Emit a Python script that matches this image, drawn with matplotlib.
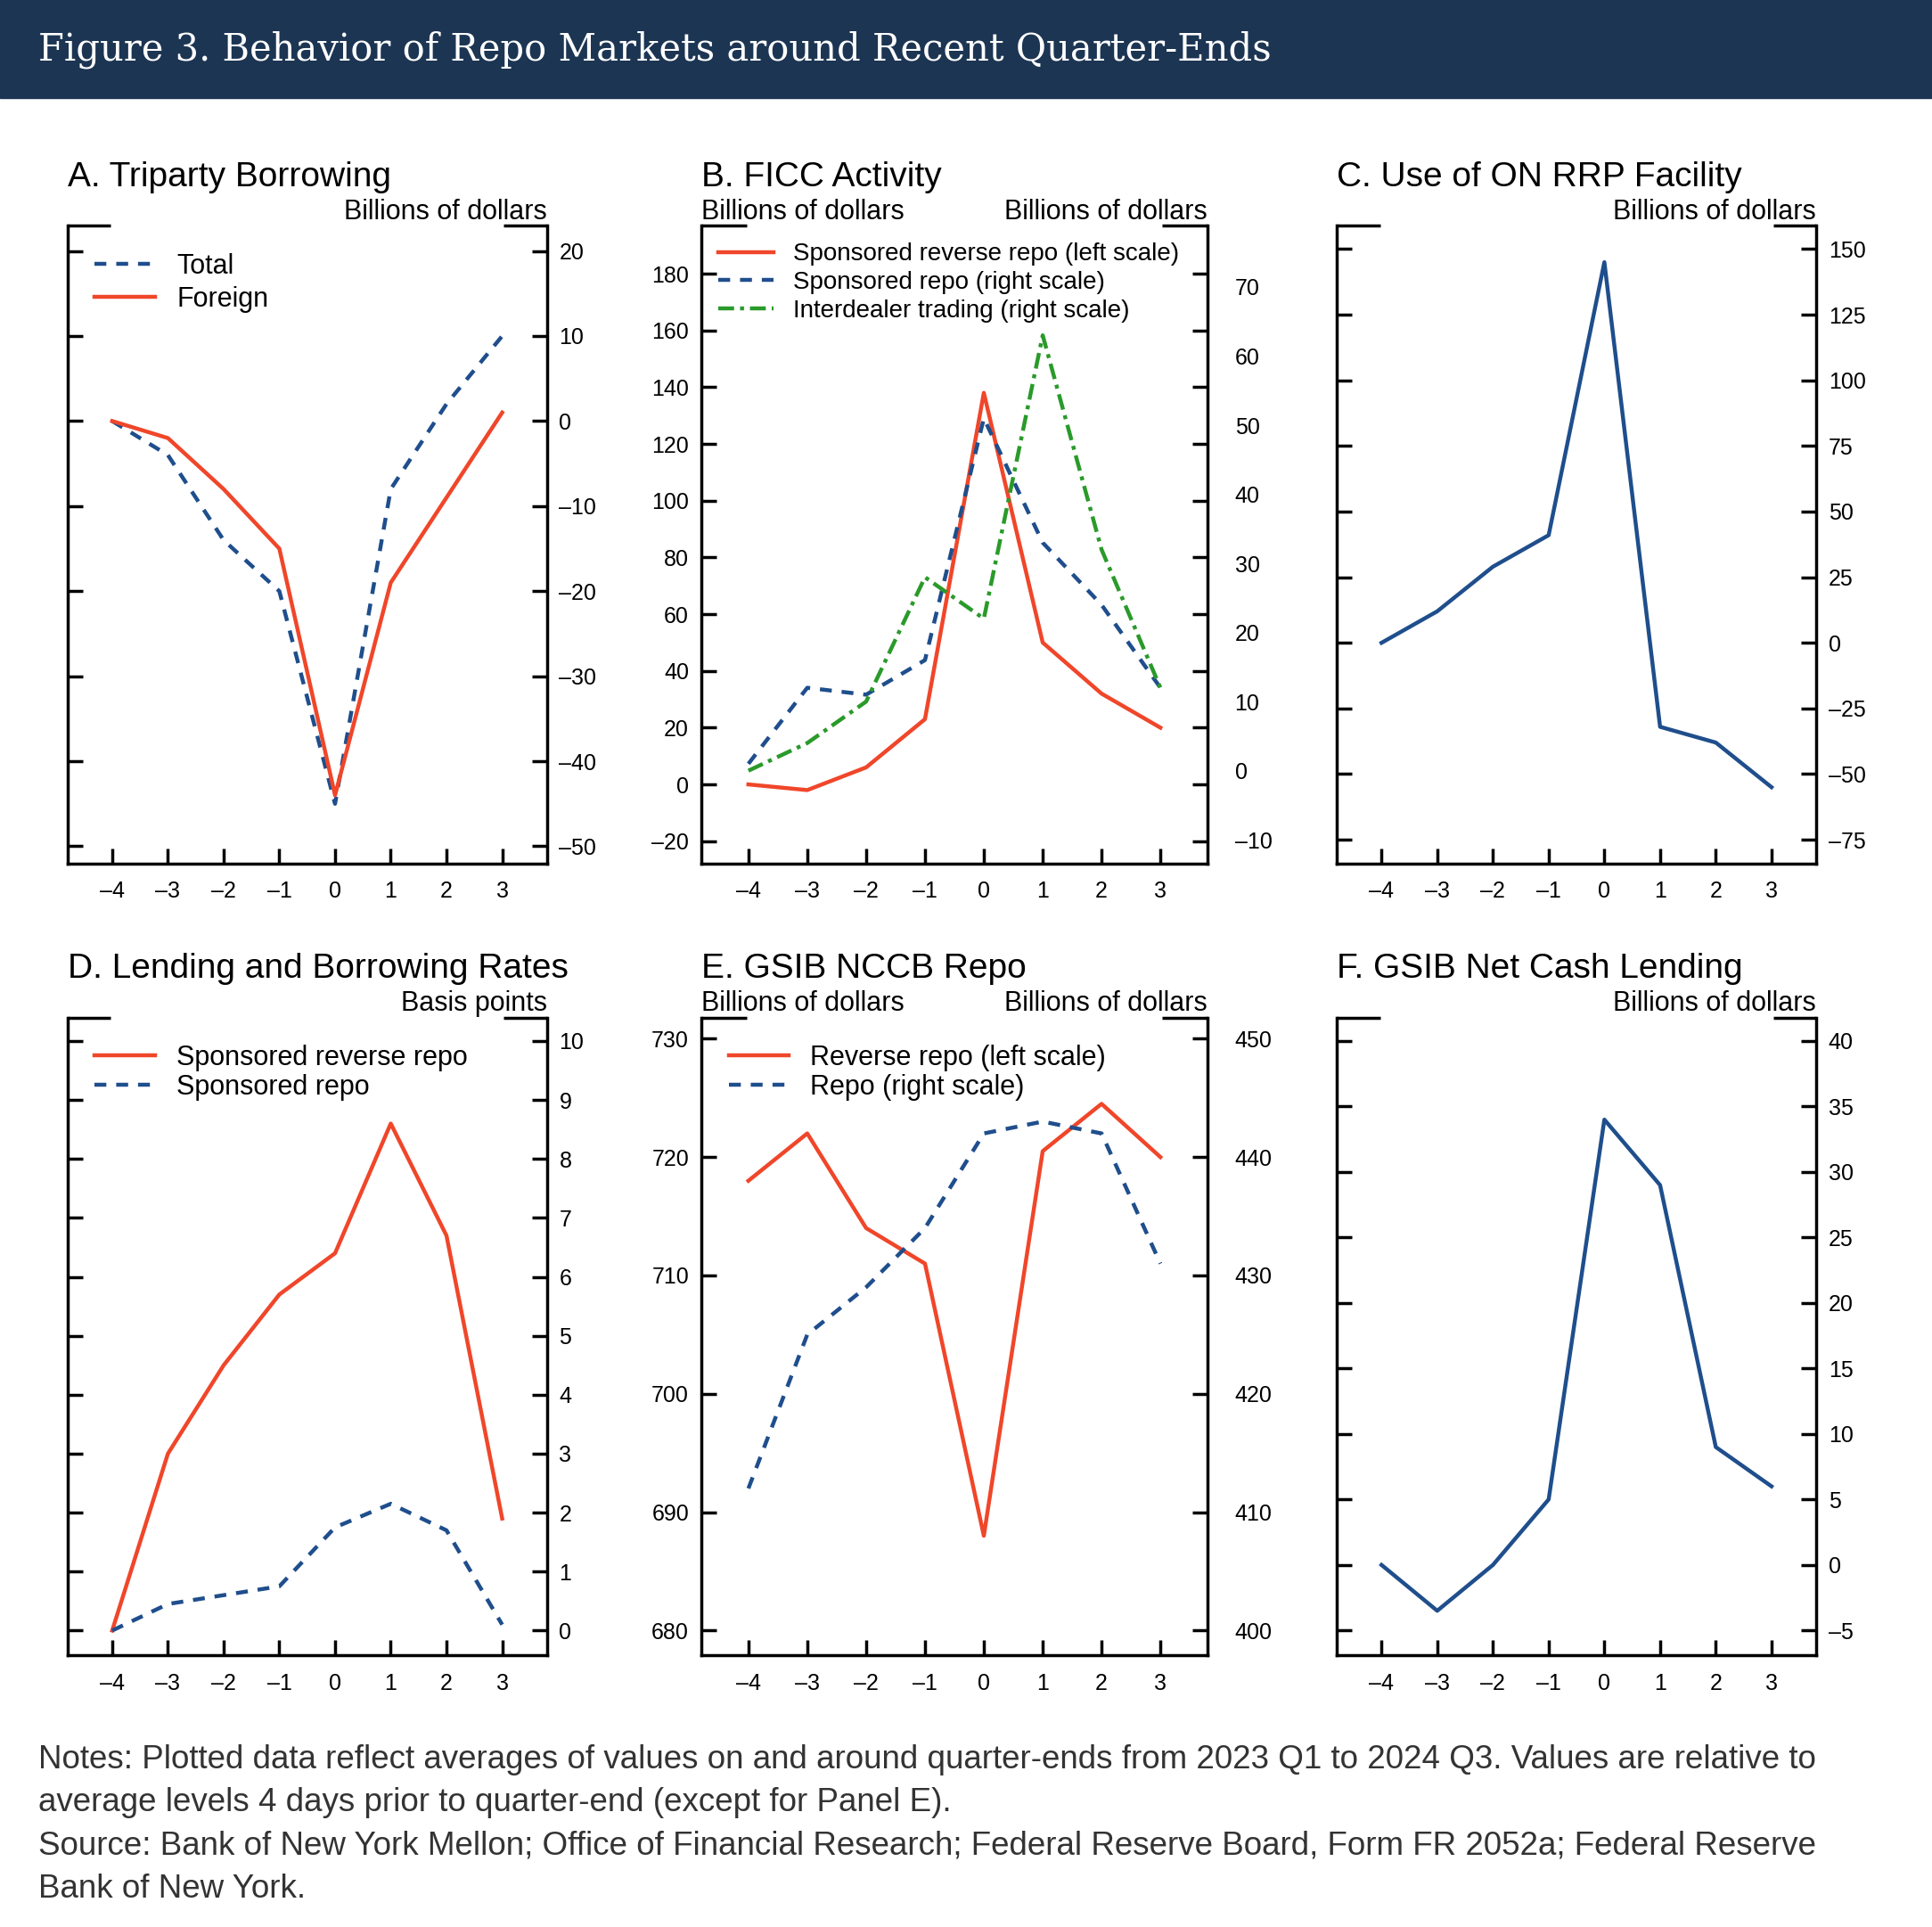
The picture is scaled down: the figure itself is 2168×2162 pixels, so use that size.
import numpy as np
import matplotlib.pyplot as plt

plt.rcParams['font.family'] = ['Liberation Sans', 'DejaVu Sans']

days = [-4, -3, -2, -1, 0, 1, 2, 3]

# A. Triparty borrowing
a_total = [0, -4, -14, -20, -45, -8, 2, 10]
a_foreign = [0, -2, -8, -15, -44, -19, -9, 1]
# B. FICC activity
b_srr = [0, -2, 6, 23, 138, 50, 32, 20]
b_sr = [1, 12, 11, 16, 51, 33, 24, 12]
b_inter = [0, 4, 10, 28, 22, 63, 32, 12]
# C. ON RRP
c_rrp = [0, 12, 29, 41, 145, -32, -38, -55]
# D. Rates
d_srr = [0, 3, 4.5, 5.7, 6.4, 8.6, 6.7, 1.9]
d_sr = [0, 0.45, 0.6, 0.75, 1.75, 2.15, 1.7, 0.1]
# E. GSIB NCCB
e_rev = [718, 722, 714, 711, 688, 720.5, 724.5, 720]
e_repo = [412, 425, 429, 434, 442, 443, 442, 431]
# F. Net cash lending
f_net = [0, -3.5, 0, 5, 34, 29, 9, 6]

RED = '#f0462a'
BLUE = '#1f4e8c'
GREEN = '#2a9a2a'
LW = 3.2
TS = 18

fig = plt.figure(figsize=(21.68, 21.62), dpi=100)
fig.patches.append(plt.Rectangle((0, 0.949), 1, 0.051, transform=fig.transFigure,
                                 color='#1c3553', zorder=0))
fig.text(0.02, 0.974, 'Figure 3. Behavior of Repo Markets around Recent Quarter-Ends',
         color='white', fontsize=30, family=['DejaVu Serif'], va='center')

lefts = [0.035, 0.363, 0.692]
widths = [0.248, 0.262, 0.248]
bottoms = [0.552, 0.141]
H = 0.331


def fmt(v):
    return str(v).replace('-', '\u2013')


def frame(ax, yticks, ylim):
    ax.set_xlim(-4.8, 3.8)
    ax.set_ylim(*ylim)
    ax.set_xticks(days)
    ax.set_xticklabels([fmt(d) for d in days])
    ax.set_yticks(list(yticks))
    ax.set_yticklabels([fmt(v) for v in yticks])
    ax.spines['top'].set_visible(False)
    for s in ['left', 'right', 'bottom']:
        ax.spines[s].set_linewidth(2.5)
    ax.tick_params(direction='in', length=12, width=2.5, labelsize=TS,
                   left=True, right=True, labelleft=False, labelright=True, pad=10)
    ax.tick_params(axis='x', pad=14)
    for x0, x1 in [(0, 0.09), (0.91, 1)]:
        ax.plot([x0, x1], [1, 1], transform=ax.transAxes, color='black', lw=2.5,
                clip_on=False, solid_capstyle='butt')


def titles(ax, title, left_unit=None, right_unit='Billions of dollars'):
    ax.text(0, 1.062, title, transform=ax.transAxes, fontsize=28, ha='left')
    ax.text(1, 1.01, right_unit, transform=ax.transAxes, fontsize=22, ha='right')
    if left_unit:
        ax.text(0, 1.01, left_unit, transform=ax.transAxes, fontsize=22, ha='left')


def make_ax(r, c):
    return fig.add_axes([lefts[c], bottoms[r], widths[c], H])


def right_twin(ax, ticks, ylim):
    ax2 = ax.twinx()
    ax2.set_ylim(*ylim)
    ax2.set_yticks(list(ticks))
    ax2.set_yticklabels([fmt(v) for v in ticks])
    ax2.tick_params(direction='in', length=0, labelsize=TS, pad=22)
    for s in ax2.spines.values():
        s.set_visible(False)
    return ax2


# A
ax = make_ax(0, 0)
ax.plot(days, a_total, color=BLUE, lw=LW, ls=(0, (3, 2.5)), label='Total')
ax.plot(days, a_foreign, color=RED, lw=LW, label='Foreign')
frame(ax, range(-50, 21, 10), (-52, 23))
titles(ax, 'A. Triparty Borrowing')
ax.legend(loc='upper left', frameon=False, fontsize=22, handlelength=2.2,
          borderaxespad=0.6, labelspacing=0.25)

# B
ax = make_ax(0, 1)
ax2 = right_twin(ax, range(-10, 71, 10), (-13.4, 78.9))
l1, = ax.plot(days, b_srr, color=RED, lw=LW, label='Sponsored reverse repo (left scale)')
l2, = ax2.plot(days, b_sr, color=BLUE, lw=LW, ls=(0, (3, 2.5)), label='Sponsored repo (right scale)')
l3, = ax2.plot(days, b_inter, color=GREEN, lw=LW, ls=(0, (4, 1.5, 1, 1.5)),
               label='Interdealer trading (right scale)')
frame(ax, range(-20, 181, 20), (-27.8, 197))
ax.tick_params(labelleft=True, labelright=False)
titles(ax, 'B. FICC Activity', left_unit='Billions of dollars')
ax2.legend(handles=[l1, l2, l3], loc='upper left', frameon=False, fontsize=20,
           handlelength=2.2, borderaxespad=0.3, labelspacing=0.2)

# C
ax = make_ax(0, 2)
ax.plot(days, c_rrp, color=BLUE, lw=LW)
frame(ax, range(-75, 151, 25), (-84, 159))
titles(ax, 'C. Use of ON RRP Facility')

# D
ax = make_ax(1, 0)
ax.plot(days, d_srr, color=RED, lw=LW, label='Sponsored reverse repo')
ax.plot(days, d_sr, color=BLUE, lw=LW, ls=(0, (3, 2.5)), label='Sponsored repo')
frame(ax, range(0, 11), (-0.42, 10.4))
titles(ax, 'D. Lending and Borrowing Rates', right_unit='Basis points')
ax.legend(loc='upper left', frameon=False, fontsize=22, handlelength=2.2,
          borderaxespad=0.6, labelspacing=0.1)

# E
ax = make_ax(1, 1)
ax2 = right_twin(ax, range(400, 451, 10), (397.9, 451.8))
l1, = ax.plot(days, e_rev, color=RED, lw=LW, label='Reverse repo (left scale)')
l2, = ax2.plot(days, e_repo, color=BLUE, lw=LW, ls=(0, (3, 2.5)), label='Repo (right scale)')
frame(ax, range(680, 731, 10), (677.9, 731.8))
ax.tick_params(labelleft=True, labelright=False)
titles(ax, 'E. GSIB NCCB Repo', left_unit='Billions of dollars')
ax2.legend(handles=[l1, l2], loc='upper left', frameon=False, fontsize=22,
           handlelength=2.2, borderaxespad=0.6, labelspacing=0.1)

# F
ax = make_ax(1, 2)
ax.plot(days, f_net, color=BLUE, lw=LW)
frame(ax, range(-5, 41, 5), (-6.9, 41.8))
titles(ax, 'F. GSIB Net Cash Lending')

notes = ('Notes: Plotted data reflect averages of values on and around quarter-ends from 2023 Q1 to 2024 Q3. Values are relative to\n'
         'average levels 4 days prior to quarter-end (except for Panel E).\n'
         'Source: Bank of New York Mellon; Office of Financial Research; Federal Reserve Board, Form FR 2052a; Federal Reserve\n'
         'Bank of New York.')
fig.text(0.02, 0.095, notes, fontsize=26.5, va='top', color='#333333', linespacing=1.5)

fig.savefig('out.png', dpi=100)
